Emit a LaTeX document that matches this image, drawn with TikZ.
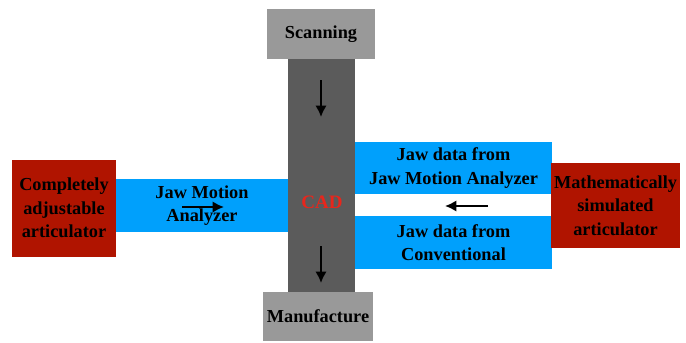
\documentclass[tikz,border=0pt]{standalone}
\usepackage{fontspec}
\setmainfont{Liberation Serif}
\usepackage{tikz}
\usetikzlibrary{arrows.meta,positioning}
\definecolor{stepgray}{HTML}{999999}
\definecolor{cadgray}{HTML}{5B5B5B}
\definecolor{jawblue}{HTML}{00A0FC}
\definecolor{artred}{HTML}{B01400}
\definecolor{cadred}{HTML}{E8261C}
\tikzset{
  stepbox/.style={fill=stepgray,inner sep=0pt,align=center,
    font=\fontsize{18.3}{23.5}\selectfont\bfseries},
  databox/.style={fill=jawblue,inner sep=0pt,align=center,
    font=\fontsize{18.3}{23.5}\selectfont\bfseries},
  artbox/.style={fill=artred,inner sep=0pt,align=center,
    font=\fontsize{18.3}{23.5}\selectfont\bfseries},
  flowarrow/.style={-{Latex[length=4mm,width=4mm]},line width=2pt}
}
\begin{document}
\begin{tikzpicture}[x=1pt,y=-1pt]
  \useasboundingbox (0,0) rectangle (686,343);
  % central column
  \node[fill=cadgray,minimum width=67pt,minimum height=233pt,inner sep=0pt]
    (cad) at (321.5,175.5) {};
  \node[font=\fontsize{19}{20}\selectfont\bfseries,text=cadred] (cadlabel) at (322,202) {CAD};
  \node[stepbox,minimum width=108pt,minimum height=50pt] (scan) at (321,34) {Scanning};
  \node[stepbox,minimum width=110pt,minimum height=49pt] (manuf) at (318,316.5) {Manufacture};
  % left side
  \node[artbox,minimum width=104pt,minimum height=97pt] (complete) at (64,208)
    {Completely\\adjustable\\articulator};
  \node[databox,minimum width=172pt,minimum height=53pt] (analyzer) at (202,205.5)
    {Jaw Motion\\Analyzer};
  % right side
  \node[databox,minimum width=197pt,minimum height=52pt] (jawup) at (453.5,168)
    {Jaw data from\\Jaw Motion Analyzer};
  \node[databox,minimum width=197pt,minimum height=53pt] (jawlow) at (453.5,242.5)
    {Jaw data from\\Conventional};
  \node[artbox,minimum width=129pt,minimum height=85pt] (simulated) at (615.5,205.5)
    {Mathematically\\simulated\\articulator};
  % arrows
  \coordinate (t1) at (321,80);  \coordinate (t2) at (321,117);
  \coordinate (b1) at (321,246); \coordinate (b2) at (321,283);
  \coordinate (l1) at (182,207); \coordinate (l2) at (224,207);
  \coordinate (r1) at (488,206); \coordinate (r2) at (445,206);
  \draw[flowarrow] (t1) -- (t2);
  \draw[flowarrow] (b1) -- (b2);
  \draw[flowarrow] (l1) -- (l2);
  \draw[flowarrow] (r1) -- (r2);
\end{tikzpicture}
\end{document}
